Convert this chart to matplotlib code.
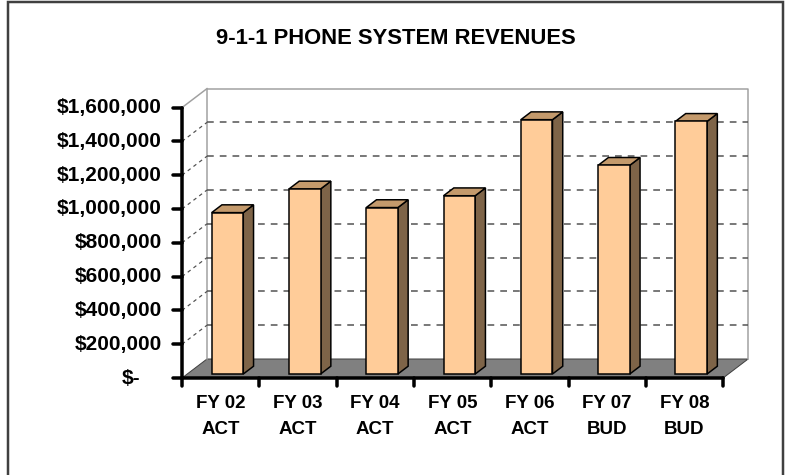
import matplotlib
matplotlib.use("Agg")
import matplotlib.pyplot as plt
from matplotlib.patches import Polygon, Rectangle

# ===============================
# Data
# ===============================
categories = ["FY 02", "FY 03", "FY 04", "FY 05", "FY 06", "FY 07", "FY 08"]
sublabels = ["ACT", "ACT", "ACT", "ACT", "ACT", "BUD", "BUD"]
revenues = [955000, 1095000, 985000, 1055000, 1505000, 1235000, 1495000]
yticks = [0, 200000, 400000, 600000, 800000, 1000000, 1200000, 1400000, 1600000]
ytick_labels = ["$-", "$200,000", "$400,000", "$600,000", "$800,000",
                "$1,000,000", "$1,200,000", "$1,400,000", "$1,600,000"]
title = "9-1-1 PHONE SYSTEM REVENUES"

# ===============================
# Layout (pixel based, 100 dpi)
# ===============================
W, H = 786, 475
X0_PX, Y0_PX = 182, 378          # front origin
CAT_PX = 77.3                    # pixels per category
VAL_PX = 33.8 / 200000           # pixels per dollar
DX = 25 / CAT_PX                 # depth offset (category units)
DY = 19 / VAL_PX                 # depth offset (value units)
YMAX = 1600000
N = len(categories)

FRONT = "#FFCC99"
TOP = "#C49A6C"
SIDE = "#7E6448"
px = 0.72  # one pixel in points

fig = plt.figure(figsize=(W / 100, H / 100), dpi=100)
ax = fig.add_axes([0, 0, 1, 1])
ax.set_xlim(-X0_PX / CAT_PX, (W - X0_PX) / CAT_PX)
ax.set_ylim(-(H - Y0_PX) / VAL_PX, Y0_PX / VAL_PX)
ax.axis("off")


def pt(c, v, f):
    return (c + f * DX, v + f * DY)


# ===============================
# Walls and floor
# ===============================
ax.add_patch(Polygon([pt(0, 0, 0), pt(N, 0, 0), pt(N, 0, 1), pt(0, 0, 1)],
                     closed=True, facecolor="#808080", edgecolor="#404040",
                     linewidth=1 * px, zorder=1))

wall = dict(color="#a0a0a0", linewidth=1.5 * px, zorder=2)
ax.plot(*zip(pt(0, 0, 1), pt(0, YMAX, 1), pt(N, YMAX, 1), pt(N, 0, 1)), **wall)
ax.plot(*zip(pt(0, YMAX, 0), pt(0, YMAX, 1)), **wall)

for v in yticks[1:-1]:
    ax.plot(*zip(pt(0, v, 1), pt(N, v, 1)), color="#505050",
            linewidth=1.5 * px, dashes=(4.5, 4), zorder=2)
    ax.plot(*zip(pt(0, v, 0), pt(0, v, 1)), color="#505050",
            linewidth=1.2 * px, dashes=(3, 3), zorder=2)

# ===============================
# Bars
# ===============================
f0, f1 = 0.21, 0.62
off, bw = 0.316, 0.409
for i, val in enumerate(revenues):
    xa = i + off
    xb = xa + bw
    side = [pt(xb, 0, f0), pt(xb, 0, f1), pt(xb, val, f1), pt(xb, val, f0)]
    top = [pt(xa, val, f0), pt(xb, val, f0), pt(xb, val, f1), pt(xa, val, f1)]
    front = [pt(xa, 0, f0), pt(xb, 0, f0), pt(xb, val, f0), pt(xa, val, f0)]
    for poly, col in ((side, SIDE), (top, TOP), (front, FRONT)):
        ax.add_patch(Polygon(poly, closed=True, facecolor=col,
                             edgecolor="black", linewidth=1.5 * px,
                             joinstyle="miter", zorder=3))

# ===============================
# Axes lines, ticks, labels
# ===============================
axis = dict(color="black", linewidth=3.5 * px, solid_capstyle="round", zorder=5)
ax.plot([0, 0], [0, YMAX], **axis)
ax.plot([0, N], [0, 0], **axis)
for v in yticks:
    ax.plot([-9 / CAT_PX, 0], [v, v], **axis)
for i in range(N + 1):
    ax.plot([i, i], [0, -8 / VAL_PX], **axis)

font = dict(family=["Liberation Sans", "DejaVu Sans"], fontweight="bold")
for v, lab in zip(yticks, ytick_labels):
    xr = -20 / CAT_PX if v else -42 / CAT_PX
    ax.text(xr, v, lab, ha="right", va="center", fontsize=15, **font)

for i, (c, s) in enumerate(zip(categories, sublabels)):
    ax.text(i + 0.5, -25 / VAL_PX, c, ha="center", va="center", fontsize=13.5, **font)
    ax.text(i + 0.5, -52 / VAL_PX, s, ha="center", va="center", fontsize=13.5, **font)

fig.text(395.8 / W, 1 - 38 / H, title, ha="center", va="center", fontsize=15.8, **font)

# outer frame
fig.add_artist(Rectangle((7.5 / W, -0.05), (783 - 7.5) / W, 1 - 2 / H + 0.05,
                         transform=fig.transFigure, fill=False,
                         edgecolor="#404040", linewidth=2.5 * px))

fig.savefig("out.png", dpi=100)
